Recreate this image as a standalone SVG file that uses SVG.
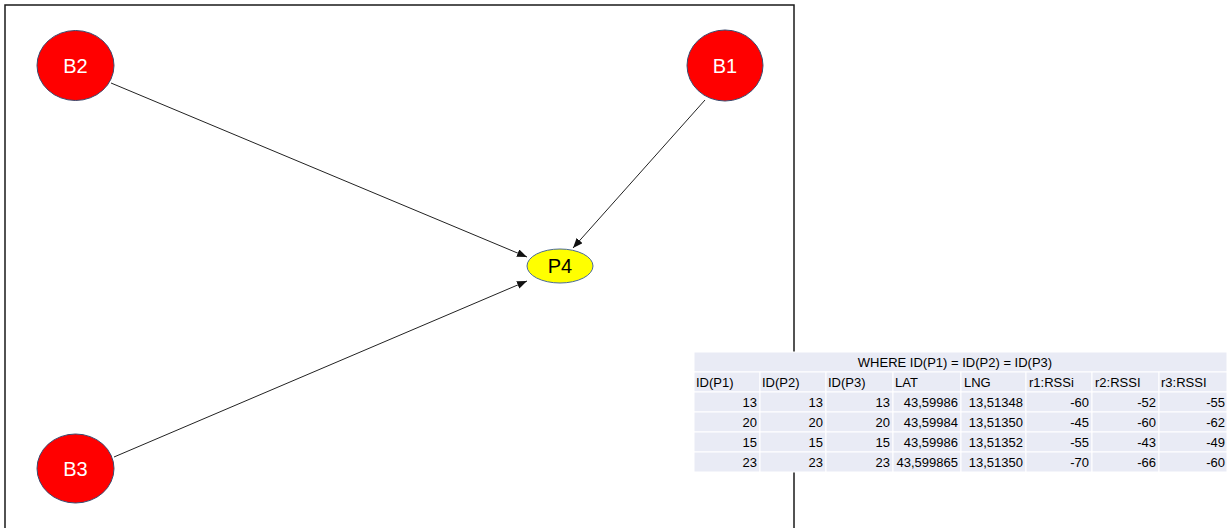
<svg xmlns="http://www.w3.org/2000/svg" width="1231" height="528" viewBox="0 0 1231 528">
  <style>
    .frame { fill: none; stroke: #1a1a1a; stroke-width: 1.5; }
    .beacon { fill: #ff0000; stroke: #3b4a6e; stroke-width: 1; }
    .point { fill: #ffff00; stroke: #4a6a9a; stroke-width: 1; }
    .blabel { font-family: "Liberation Sans", Arial, sans-serif; font-size: 20px; fill: #ffffff; text-anchor: middle; }
    .plabel { font-family: "Liberation Sans", Arial, sans-serif; font-size: 20px; fill: #000000; text-anchor: middle; }
    .edge { stroke: #222222; stroke-width: 1; fill: none; marker-end: url(#arrow); }
    .cell { fill: #e9ebf5; stroke: #ffffff; stroke-width: 1; }
    .t { font-family: "Liberation Sans", Arial, sans-serif; font-size: 13px; fill: #000000; }
    .r { text-anchor: end; }
    .c { text-anchor: middle; }
  </style>
  <defs>
    <marker id="arrow" viewBox="0 0 10 8" refX="10" refY="4" markerWidth="10" markerHeight="8" markerUnits="userSpaceOnUse" orient="auto">
      <path d="M0,0 L10,4 L0,8 Z" fill="#111111"/>
    </marker>
  </defs>

  <rect width="1231" height="528" fill="#ffffff"/>

  <!-- drawing frame -->
  <rect class="frame" x="5" y="5" width="789" height="540"/>

  <!-- connectors -->
  <g id="connectors">
    <line class="edge" x1="111" y1="83" x2="527" y2="257"/>
    <line class="edge" x1="705" y1="100" x2="573" y2="248"/>
    <line class="edge" x1="114" y1="457" x2="527" y2="281"/>
  </g>

  <!-- nodes -->
  <g id="B2">
    <ellipse class="beacon" cx="75.5" cy="65.5" rx="38.5" ry="35"/>
    <text class="blabel" x="75.5" y="73">B2</text>
  </g>
  <g id="B1">
    <ellipse class="beacon" cx="725" cy="65.5" rx="38" ry="35.5"/>
    <text class="blabel" x="725" y="73">B1</text>
  </g>
  <g id="B3">
    <ellipse class="beacon" cx="75.5" cy="468.5" rx="38.5" ry="34.5"/>
    <text class="blabel" x="75.5" y="476">B3</text>
  </g>
  <g id="P4">
    <ellipse class="point" cx="560" cy="266" rx="33" ry="17"/>
    <text class="plabel" x="560" y="273">P4</text>
  </g>

  <!-- data table -->
  <g id="table">
    <rect class="cell" x="694" y="352" width="533" height="20"/>
    <g>
      <rect class="cell" x="694" y="372" width="66" height="20"/>
      <rect class="cell" x="760" y="372" width="66" height="20"/>
      <rect class="cell" x="826" y="372" width="67" height="20"/>
      <rect class="cell" x="893" y="372" width="68" height="20"/>
      <rect class="cell" x="961" y="372" width="65" height="20"/>
      <rect class="cell" x="1026" y="372" width="66" height="20"/>
      <rect class="cell" x="1092" y="372" width="67" height="20"/>
      <rect class="cell" x="1159" y="372" width="68" height="20"/>
    </g>
    <g>
      <rect class="cell" x="694" y="392" width="66" height="20"/>
      <rect class="cell" x="760" y="392" width="66" height="20"/>
      <rect class="cell" x="826" y="392" width="67" height="20"/>
      <rect class="cell" x="893" y="392" width="68" height="20"/>
      <rect class="cell" x="961" y="392" width="65" height="20"/>
      <rect class="cell" x="1026" y="392" width="66" height="20"/>
      <rect class="cell" x="1092" y="392" width="67" height="20"/>
      <rect class="cell" x="1159" y="392" width="68" height="20"/>
    </g>
    <g>
      <rect class="cell" x="694" y="412" width="66" height="20"/>
      <rect class="cell" x="760" y="412" width="66" height="20"/>
      <rect class="cell" x="826" y="412" width="67" height="20"/>
      <rect class="cell" x="893" y="412" width="68" height="20"/>
      <rect class="cell" x="961" y="412" width="65" height="20"/>
      <rect class="cell" x="1026" y="412" width="66" height="20"/>
      <rect class="cell" x="1092" y="412" width="67" height="20"/>
      <rect class="cell" x="1159" y="412" width="68" height="20"/>
    </g>
    <g>
      <rect class="cell" x="694" y="432" width="66" height="20"/>
      <rect class="cell" x="760" y="432" width="66" height="20"/>
      <rect class="cell" x="826" y="432" width="67" height="20"/>
      <rect class="cell" x="893" y="432" width="68" height="20"/>
      <rect class="cell" x="961" y="432" width="65" height="20"/>
      <rect class="cell" x="1026" y="432" width="66" height="20"/>
      <rect class="cell" x="1092" y="432" width="67" height="20"/>
      <rect class="cell" x="1159" y="432" width="68" height="20"/>
    </g>
    <g>
      <rect class="cell" x="694" y="452" width="66" height="20"/>
      <rect class="cell" x="760" y="452" width="66" height="20"/>
      <rect class="cell" x="826" y="452" width="67" height="20"/>
      <rect class="cell" x="893" y="452" width="68" height="20"/>
      <rect class="cell" x="961" y="452" width="65" height="20"/>
      <rect class="cell" x="1026" y="452" width="66" height="20"/>
      <rect class="cell" x="1092" y="452" width="67" height="20"/>
      <rect class="cell" x="1159" y="452" width="68" height="20"/>
    </g>

    <text class="t c" x="955" y="367">WHERE ID(P1) = ID(P2) = ID(P3)</text>

    <text class="t" x="696" y="387">ID(P1)</text>
    <text class="t" x="762" y="387">ID(P2)</text>
    <text class="t" x="828" y="387">ID(P3)</text>
    <text class="t" x="895" y="387">LAT</text>
    <text class="t" x="964" y="387">LNG</text>
    <text class="t" x="1029" y="387">r1:RSSi</text>
    <text class="t" x="1095" y="387">r2:RSSI</text>
    <text class="t" x="1161" y="387">r3:RSSI</text>

    <text class="t r" x="757" y="407">13</text>
    <text class="t r" x="823" y="407">13</text>
    <text class="t r" x="890" y="407">13</text>
    <text class="t r" x="958" y="407">43,59986</text>
    <text class="t r" x="1023" y="407">13,51348</text>
    <text class="t r" x="1089" y="407">-60</text>
    <text class="t r" x="1156" y="407">-52</text>
    <text class="t r" x="1225" y="407">-55</text>

    <text class="t r" x="757" y="427">20</text>
    <text class="t r" x="823" y="427">20</text>
    <text class="t r" x="890" y="427">20</text>
    <text class="t r" x="958" y="427">43,59984</text>
    <text class="t r" x="1023" y="427">13,51350</text>
    <text class="t r" x="1089" y="427">-45</text>
    <text class="t r" x="1156" y="427">-60</text>
    <text class="t r" x="1225" y="427">-62</text>

    <text class="t r" x="757" y="447">15</text>
    <text class="t r" x="823" y="447">15</text>
    <text class="t r" x="890" y="447">15</text>
    <text class="t r" x="958" y="447">43,59986</text>
    <text class="t r" x="1023" y="447">13,51352</text>
    <text class="t r" x="1089" y="447">-55</text>
    <text class="t r" x="1156" y="447">-43</text>
    <text class="t r" x="1225" y="447">-49</text>

    <text class="t r" x="757" y="467">23</text>
    <text class="t r" x="823" y="467">23</text>
    <text class="t r" x="890" y="467">23</text>
    <text class="t r" x="958" y="467">43,599865</text>
    <text class="t r" x="1023" y="467">13,51350</text>
    <text class="t r" x="1089" y="467">-70</text>
    <text class="t r" x="1156" y="467">-66</text>
    <text class="t r" x="1225" y="467">-60</text>
  </g>
</svg>
